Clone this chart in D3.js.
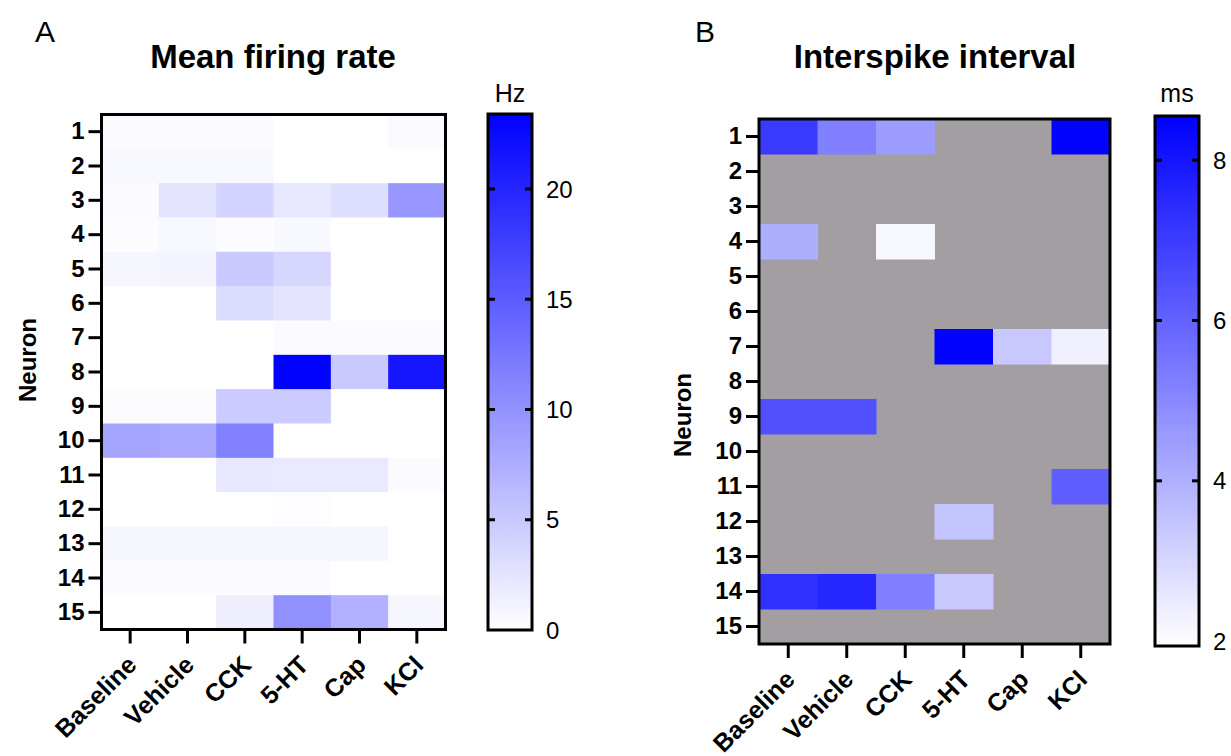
<!DOCTYPE html>
<html><head><meta charset="utf-8">
<script src="https://cdn.jsdelivr.net/npm/d3@7"></script>
<style>
html,body{margin:0;padding:0;background:#fff;}
svg text{font-family:"Liberation Sans",Arial,Helvetica,sans-serif;fill:#000;}
</style></head>
<body>
<svg id="chart" width="1231" height="756"></svg>
<script>
// ---- data ----
const conditions = ["Baseline","Vehicle","CCK","5-HT","Cap","KCl"];
const neurons = [1,2,3,4,5,6,7,8,9,10,11,12,13,14,15];
// Mean firing rate (Hz), one row per neuron, columns follow `conditions`
const firingRate = [
  [0.4, 0.4, 0.4, 0, 0, 0.4],
  [0.6, 0.6, 0.6, 0, 0, 0],
  [0.5, 2.5, 4.0, 2.2, 3.0, 9.5],
  [0.3, 0.6, 0.3, 0.6, 0, 0],
  [0.8, 1.0, 5.0, 3.8, 0, 0],
  [0, 0, 3.2, 2.5, 0, 0],
  [0, 0, 0, 0.4, 0.4, 0.4],
  [0, 0, 0, 23.2, 5.0, 21.5],
  [0.3, 0.3, 4.8, 4.8, 0, 0],
  [8.3, 8.0, 11.6, 0, 0, 0],
  [0, 0, 2.2, 2.0, 2.0, 0.5],
  [0, 0, 0, 0.2, 0, 0],
  [0.8, 0.8, 0.8, 0.8, 0.8, 0],
  [0.4, 0.4, 0.4, 0.4, 0, 0],
  [0, 0, 1.6, 10.2, 7.2, 0.8]
];
// Interspike interval (ms); null = no data (grey)
const isi = [
  [7.05, 5.25, 4.5, null, null, 8.5],
  [null, null, null, null, null, null],
  [null, null, null, null, null, null],
  [4.05, null, 2.15, null, null, null],
  [null, null, null, null, null, null],
  [null, null, null, null, null, null],
  [null, null, null, 8.5, 3.36, 2.33],
  [null, null, null, null, null, null],
  [6.47, 6.47, null, null, null, null],
  [null, null, null, null, null, null],
  [null, null, null, null, null, 6.1],
  [null, null, null, 3.46, null, null],
  [null, null, null, null, null, null],
  [7.3, 7.56, 5.25, 3.36, null, null],
  [null, null, null, null, null, null]
];
const rateTicks = [0, 5, 10, 15, 20];
const rateDomain = [0, 23.4];
const isiTicks = [2, 4, 6, 8];
const isiDomain = [1.94, 8.55];

// ---- drawing ----
const svg = d3.select("#chart");
const NAN_COLOR = "#a29ea2";

function panel(cfg) {
  const g = svg.append("g");
  const x = d3.scaleBand().domain(conditions).range([cfg.x0, cfg.x1]);
  const y = d3.scaleBand().domain(neurons).range([cfg.y0, cfg.y1]);
  const color = d3.scaleLinear().domain(cfg.domain).range(["#ffffff", "#0000ff"]).clamp(true);

  g.append("rect").attr("x", cfg.x0).attr("y", cfg.y0)
    .attr("width", cfg.x1 - cfg.x0).attr("height", cfg.y1 - cfg.y0)
    .attr("fill", cfg.bg);

  const cells = [];
  cfg.data.forEach((row, i) => row.forEach((v, j) => cells.push({n: neurons[i], c: conditions[j], v})));
  g.selectAll("rect.cell").data(cells.filter(d => d.v !== null)).join("rect")
    .attr("class", "cell")
    .attr("x", d => x(d.c)).attr("y", d => y(d.n))
    .attr("width", x.bandwidth() + 0.5).attr("height", y.bandwidth() + 0.5)
    .attr("fill", d => color(d.v));

  const yAxis = d3.axisLeft(y).tickSize(13).tickPadding(4);
  const ya = g.append("g").attr("transform", `translate(${cfg.x0},0)`).call(yAxis);
  ya.select(".domain").remove();
  ya.selectAll("line").attr("stroke", "#000").attr("stroke-width", 3);
  ya.selectAll("text").attr("font-size", 24).attr("font-weight", "bold");

  const xAxis = d3.axisBottom(x).tickSize(14).tickFormat(d => d);
  const xa = g.append("g").attr("transform", `translate(0,${cfg.y1})`).call(xAxis);
  xa.select(".domain").remove();
  xa.selectAll("line").attr("stroke", "#000").attr("stroke-width", 3);
  xa.selectAll("text")
    .attr("font-size", 25).attr("font-weight", "bold")
    .attr("text-anchor", "end").attr("dy", null).attr("y", null)
    .attr("transform", "translate(8,37) rotate(-45)");

  g.append("rect").attr("x", cfg.x0).attr("y", cfg.y0)
    .attr("width", cfg.x1 - cfg.x0).attr("height", cfg.y1 - cfg.y0)
    .attr("fill", "none").attr("stroke", "#000").attr("stroke-width", 3);

  g.append("text").attr("transform", `translate(${cfg.ylabX},${cfg.ylabY}) rotate(-90)`)
    .attr("text-anchor", "middle").attr("font-size", 24).attr("font-weight", "bold").text("Neuron");
  g.append("text").attr("x", cfg.titleX).attr("y", 68).attr("text-anchor", "middle")
    .attr("font-size", 33).attr("font-weight", "bold").text(cfg.title);
  g.append("text").attr("x", cfg.letterX).attr("y", 42).attr("font-size", 30).text(cfg.letter);

  const cb = cfg.cb;
  const cy = d3.scaleLinear().domain(cfg.domain).range([cb.y1, cb.y0]);
  const gid = "grad" + cfg.letter;
  const grad = svg.append("defs").append("linearGradient").attr("id", gid)
    .attr("x1", 0).attr("y1", 1).attr("x2", 0).attr("y2", 0);
  d3.range(0, 1.0001, 0.1).forEach(t => {
    grad.append("stop").attr("offset", t)
      .attr("stop-color", color(cfg.domain[0] + t * (cfg.domain[1] - cfg.domain[0])));
  });
  g.append("rect").attr("x", cb.x0).attr("y", cb.y0).attr("width", cb.x1 - cb.x0)
    .attr("height", cb.y1 - cb.y0).attr("fill", `url(#${gid})`);
  const inTicks = cfg.ticks.filter(t => t > cfg.domain[0] + 0.2);
  g.selectAll("line.cbl").data(inTicks).join("line").attr("class", "cbl")
    .attr("x1", cb.x0).attr("x2", cb.x0 + 7).attr("y1", d => cy(d)).attr("y2", d => cy(d))
    .attr("stroke", "#000").attr("stroke-width", 3);
  g.selectAll("line.cbr").data(inTicks).join("line").attr("class", "cbr")
    .attr("x1", cb.x1 - 7).attr("x2", cb.x1).attr("y1", d => cy(d)).attr("y2", d => cy(d))
    .attr("stroke", "#000").attr("stroke-width", 3);
  g.append("rect").attr("x", cb.x0).attr("y", cb.y0).attr("width", cb.x1 - cb.x0)
    .attr("height", cb.y1 - cb.y0).attr("fill", "none").attr("stroke", "#000").attr("stroke-width", 3);
  g.selectAll("text.cbt").data(cfg.ticks).join("text").attr("class", "cbt")
    .attr("x", cb.x1 + 14).attr("y", d => cy(d)).attr("dy", "0.36em")
    .attr("font-size", 24).text(d => d);
  g.append("text").attr("x", (cb.x0 + cb.x1) / 2).attr("y", 102).attr("text-anchor", "middle")
    .attr("font-size", 25).text(cfg.unit);
}

panel({
  letter: "A", letterX: 35, title: "Mean firing rate", titleX: 273,
  x0: 101.5, x1: 445.5, y0: 114.5, y1: 629.5, ylabX: 36, ylabY: 360,
  data: firingRate, domain: rateDomain, ticks: rateTicks, bg: "#ffffff", unit: "Hz",
  cb: {x0: 488, x1: 532, y0: 114, y1: 630}
});
panel({
  letter: "B", letterX: 695, title: "Interspike interval", titleX: 935,
  x0: 759, x1: 1110, y0: 119, y1: 644, ylabX: 691, ylabY: 415,
  data: isi, domain: isiDomain, ticks: isiTicks, bg: NAN_COLOR, unit: "ms",
  cb: {x0: 1155, x1: 1199, y0: 116, y1: 646}
});
</script>
</body></html>
